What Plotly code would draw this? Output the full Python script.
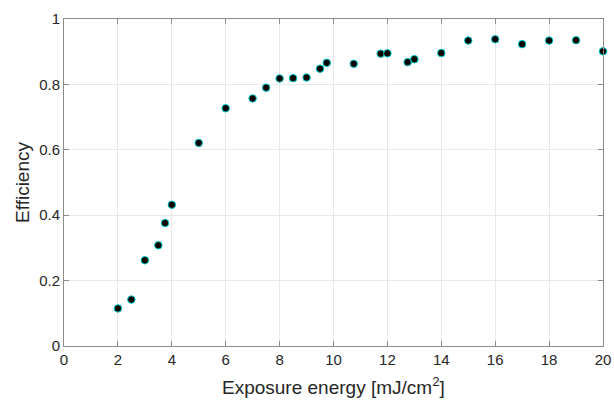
import plotly.graph_objects as go

# Exposure energy (mJ/cm^2) and measured efficiency
energy = [2, 2.5, 3, 3.5, 3.75, 4, 5, 6, 7, 7.5, 8, 8.5, 9, 9.5, 9.75,
          10.75, 11.75, 12, 12.75, 13, 14, 15, 16, 17, 18, 19, 20]
efficiency = [0.115, 0.142, 0.262, 0.308, 0.376, 0.432, 0.621, 0.727, 0.757,
              0.790, 0.818, 0.819, 0.821, 0.848, 0.866, 0.863, 0.894, 0.895,
              0.868, 0.877, 0.896, 0.934, 0.938, 0.923, 0.934, 0.935, 0.901]

x_ticks = [0, 2, 4, 6, 8, 10, 12, 14, 16, 18, 20]
y_ticks = [0, 0.2, 0.4, 0.6, 0.8, 1]
y_tick_text = ["0", "0.2", "0.4", "0.6", "0.8", "1"]

font_family = "Liberation Sans, Arial, Helvetica, sans-serif"
text_color = "#262626"

fig = go.Figure(
    go.Scatter(
        x=energy,
        y=efficiency,
        mode="markers",
        marker=dict(size=7.5, color="black", line=dict(color="#00d0d0", width=1)),
        cliponaxis=False,
        showlegend=False,
    )
)

axis_common = dict(
    showline=True,
    linecolor="#8c8c8c",
    linewidth=1,
    mirror="ticks",
    ticks="inside",
    ticklen=5,
    tickcolor="#8c8c8c",
    showgrid=True,
    gridcolor="#e8e8e8",
    gridwidth=1,
    zeroline=False,
    tickfont=dict(family=font_family, size=15, color=text_color),
)

fig.update_xaxes(range=[0, 20], tickvals=x_ticks, automargin=False, **axis_common)
fig.update_yaxes(
    range=[0, 1],
    tickvals=y_ticks,
    ticktext=y_tick_text,
    title=dict(text="Efficiency",
               font=dict(family=font_family, size=19, color=text_color),
               standoff=4),
    **axis_common,
)

# x-axis title placed just under the tick labels
fig.add_annotation(
    text="Exposure energy [mJ/cm<sup>2</sup>]",
    xref="paper", yref="paper",
    x=0.5, y=-0.166,
    xanchor="center", yanchor="bottom",
    showarrow=False,
    font=dict(family=font_family, size=19, color=text_color),
)

fig.update_layout(
    width=614,
    height=400,
    margin=dict(l=64, r=10, t=17, b=54),
    plot_bgcolor="white",
    paper_bgcolor="white",
)

fig.write_html("out.html")
